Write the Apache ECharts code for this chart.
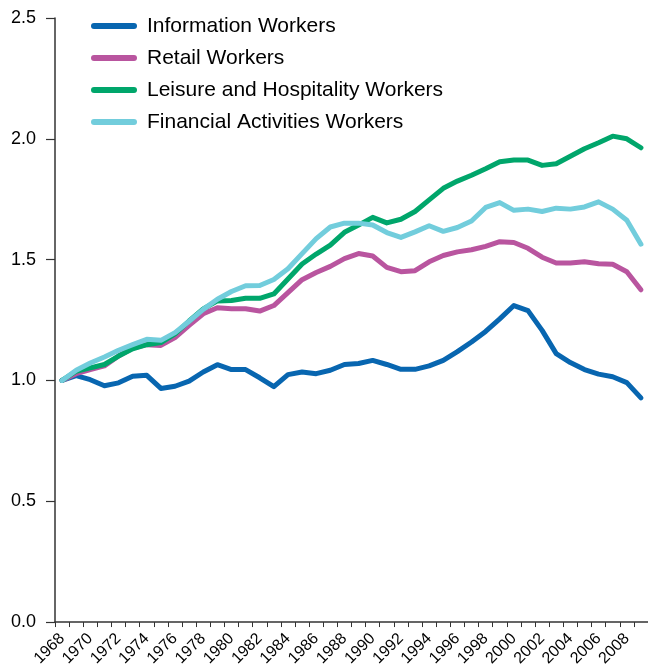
<!DOCTYPE html>
<html>
<head>
<meta charset="utf-8">
<script src="https://cdn.jsdelivr.net/npm/echarts@6/dist/echarts.min.js"></script>
<style>
html,body{margin:0;padding:0;background:#fff;}
#chart{width:648px;height:669px;}
</style>
</head>
<body>
<div id="chart"></div>
<script>
const years = [];
for (let y = 1968; y <= 2009; y++) years.push(String(y));

const seriesNames = ['Information Workers', 'Retail Workers', 'Leisure and Hospitality Workers', 'Financial Activities Workers'];

const information = [1.0, 1.02, 1.003, 0.978, 0.99, 1.017, 1.021, 0.967, 0.976, 0.997,
  1.035, 1.065, 1.045, 1.045, 1.011, 0.974, 1.024, 1.035, 1.028, 1.042,
  1.066, 1.07, 1.083, 1.066, 1.046, 1.046, 1.06, 1.083, 1.119, 1.159,
  1.203, 1.255, 1.31, 1.289, 1.207, 1.111, 1.074, 1.045, 1.026, 1.015,
  0.991, 0.928];

const retail = [1.0, 1.028, 1.045, 1.06, 1.101, 1.134, 1.148, 1.145, 1.177, 1.228,
  1.276, 1.301, 1.297, 1.297, 1.287, 1.31, 1.363, 1.417, 1.447, 1.472,
  1.504, 1.525, 1.515, 1.468, 1.45, 1.454, 1.491, 1.517, 1.532, 1.541,
  1.555, 1.574, 1.571, 1.547, 1.51, 1.486, 1.486, 1.491, 1.483, 1.481,
  1.45, 1.375];

const leisure = [1.0, 1.038, 1.052, 1.066, 1.101, 1.131, 1.148, 1.157, 1.193, 1.246,
  1.296, 1.329, 1.331, 1.34, 1.34, 1.358, 1.42, 1.482, 1.523, 1.56,
  1.613, 1.643, 1.675, 1.652, 1.667, 1.699, 1.747, 1.795, 1.825, 1.849,
  1.876, 1.905, 1.912, 1.912, 1.89, 1.897, 1.928, 1.959, 1.984, 2.011,
  2.0, 1.963];

const financial = [1.0, 1.042, 1.072, 1.097, 1.125, 1.148, 1.17, 1.166, 1.198, 1.245,
  1.294, 1.336, 1.368, 1.392, 1.393, 1.418, 1.462, 1.525, 1.587, 1.635,
  1.651, 1.651, 1.643, 1.612, 1.592, 1.615, 1.64, 1.617, 1.633, 1.66,
  1.716, 1.736, 1.704, 1.709, 1.699, 1.713, 1.709, 1.718, 1.739, 1.709,
  1.663, 1.564];

const colors = ['#0866B0', '#B9559F', '#00A66B', '#72CDDC'];
const dataSets = [information, retail, leisure, financial];
const FONT = 'Liberation Sans, Arial, Helvetica, sans-serif';

const chart = echarts.init(document.getElementById('chart'), null, {renderer: 'canvas'});
chart.setOption({
  animation: false,
  backgroundColor: '#fff',
  color: colors,
  grid: {left: 55, right: -2, top: 18, bottom: 44.5, containLabel: false},
  legend: {
    orient: 'vertical',
    left: 86,
    top: 10,
    itemWidth: 46,
    itemHeight: 6,
    itemGap: 10,
    icon: 'path://M3,0 L43,0 A3,3 0 0 1 43,6 L3,6 A3,3 0 0 1 3,0 Z',
    textStyle: {fontSize: 21, fontFamily: FONT, color: '#000', lineHeight: 22, padding: [0, 0, 0, 5]},
    data: seriesNames
  },
  xAxis: {
    type: 'category',
    data: years,
    boundaryGap: true,
    axisLine: {show: true, lineStyle: {color: '#333', width: 1.5}},
    axisTick: {show: true, interval: 0, length: 5, lineStyle: {color: '#333', width: 1}},
    axisLabel: {interval: 1, rotate: 45, fontSize: 16, fontFamily: FONT, color: '#000', margin: 14},
    splitLine: {show: false}
  },
  yAxis: {
    type: 'value',
    min: 0,
    max: 2.5,
    interval: 0.5,
    axisLine: {show: true, lineStyle: {color: '#333', width: 1.5}},
    axisTick: {show: true, length: 9, lineStyle: {color: '#333', width: 1.2}},
    axisLabel: {fontSize: 18, fontFamily: FONT, color: '#000', margin: 19,
      formatter: v => v.toFixed(1)},
    splitLine: {show: false}
  },
  series: seriesNames.map((name, k) => ({
    name: name,
    type: 'line',
    data: dataSets[k],
    symbol: 'none',
    showSymbol: false,
    lineStyle: {width: 5, color: colors[k], cap: 'round', join: 'round'},
    itemStyle: {color: colors[k]},
    z: 2 + k
  }))
});
</script>
</body>
</html>
